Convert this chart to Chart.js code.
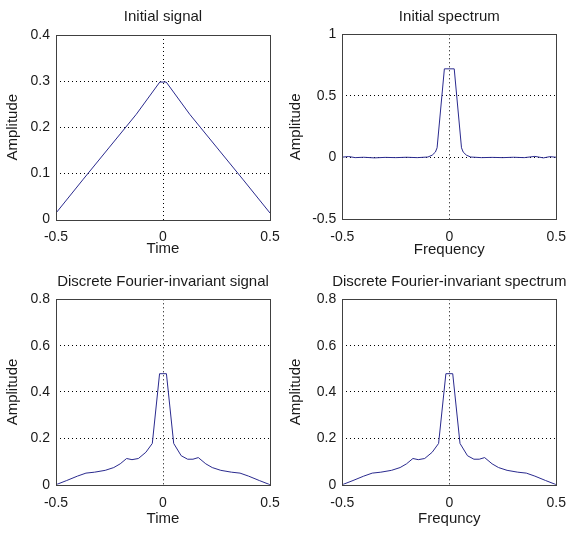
<!DOCTYPE html>
<html>
<head>
<meta charset="utf-8">
<script src="https://cdn.jsdelivr.net/npm/chart.js@4/dist/chart.umd.min.js"></script>
<style>
  html, body { margin: 0; padding: 0; background: #ffffff; }
  body { width: 567px; height: 533px; position: relative; overflow: hidden; }
  .panel { position: absolute; }
</style>
</head>
<body>
<div class="panel" style="left:0px;top:0px;width:283px;height:266px"><canvas id="c1" width="283" height="266"></canvas></div>
<div class="panel" style="left:283px;top:0px;width:284px;height:266px"><canvas id="c2" width="284" height="266"></canvas></div>
<div class="panel" style="left:0px;top:266px;width:283px;height:267px"><canvas id="c3" width="283" height="267"></canvas></div>
<div class="panel" style="left:283px;top:266px;width:284px;height:267px"><canvas id="c4" width="284" height="267"></canvas></div>
<script>
// ---- Data ----
const titles = ["Initial signal", "Initial spectrum", "Discrete Fourier-invariant signal", "Discrete Fourier-invariant spectrum"];
const xLabels = ["Time", "Frequency", "Time", "Frequncy"];
const yLabel = "Amplitude";

// Panel 1: initial signal (triangle)
const signalX = [-0.5, -0.375, -0.25, -0.125, -0.015, 0.015, 0.125, 0.25, 0.375, 0.5];
const signalY = [0.014, 0.086, 0.157, 0.228, 0.298, 0.298, 0.228, 0.157, 0.086, 0.014];

// Panel 2: initial spectrum
const spectrumX = [-0.5, -0.47, -0.44, -0.4, -0.35, -0.3, -0.25, -0.2, -0.15, -0.1, -0.08, -0.065, -0.057, -0.023,
                   0.023, 0.057, 0.065, 0.08, 0.1, 0.15, 0.2, 0.25, 0.3, 0.35, 0.4, 0.44, 0.47, 0.5];
const spectrumY = [0.004, 0.009, 0.0, 0.003, -0.002, 0.002, 0.0, 0.003, 0.0, 0.005, 0.02, 0.045, 0.08, 0.72,
                   0.72, 0.08, 0.045, 0.02, 0.005, 0.0, 0.002, 0.0, 0.003, 0.0, 0.01, -0.002, 0.008, 0.003];

// Panels 3 & 4: discrete Fourier-invariant signal / spectrum
const dfiX = [-0.5, -0.45, -0.4, -0.36, -0.32, -0.27, -0.23, -0.2, -0.17, -0.145, -0.115, -0.08, -0.05, -0.016,
              0.016, 0.05, 0.085, 0.115, 0.14, 0.165, 0.2, 0.23, 0.27, 0.32, 0.36, 0.4, 0.45, 0.5];
const dfiSignalY = [0.0, 0.018, 0.037, 0.05, 0.054, 0.062, 0.074, 0.09, 0.113, 0.108, 0.113, 0.14, 0.178, 0.479,
                    0.479, 0.178, 0.125, 0.11, 0.11, 0.117, 0.09, 0.074, 0.062, 0.054, 0.05, 0.037, 0.018, 0.0];
const dfiSpectrumY = [0.0, 0.018, 0.037, 0.05, 0.054, 0.062, 0.074, 0.09, 0.113, 0.108, 0.113, 0.14, 0.178, 0.479,
                      0.479, 0.178, 0.125, 0.11, 0.11, 0.117, 0.09, 0.074, 0.062, 0.054, 0.05, 0.037, 0.018, 0.0];

// Axis ranges / tick steps
const xRange = [-0.5, 0.5], xStep = 0.5;
const yRanges = [[0, 0.4], [-0.5, 1], [0, 0.8], [0, 0.8]];
const ySteps = [0.1, 0.5, 0.2, 0.2];

// ---- Styling ----
const FONT = "'Liberation Sans', Arial, sans-serif";
const TEXT = "#1a1a1a";
const LINE = "#2a2a8e";

// Box around the plot area + title centred over the plot area (MATLAB style)
const boxPlugin = {
  id: 'box',
  afterDatasetsDraw(chart, args, opts) {
    const a = chart.chartArea, ctx = chart.ctx;
    ctx.save();
    ctx.strokeStyle = '#404040';
    ctx.lineWidth = 1;
    ctx.setLineDash([]);
    const l = Math.round(a.left) + 0.5, t = Math.round(a.top) + 0.5;
    const r = Math.round(a.right) + 0.5, b = Math.round(a.bottom) + 0.5;
    ctx.strokeRect(l, t, r - l, b - t);
    ctx.fillStyle = TEXT;
    ctx.font = "normal 15px " + FONT;
    ctx.textAlign = 'center';
    ctx.textBaseline = 'middle';
    ctx.fillText(opts.text, (a.left + a.right) / 2, opts.y);
    ctx.restore();
  }
};

function fmt(v) { return String(Math.round(v * 100) / 100); }

function interiorGrid(min, max) {
  return (c) => {
    const v = c.tick ? c.tick.value : null;
    if (v === null || Math.abs(v - min) < 1e-9 || Math.abs(v - max) < 1e-9) return 'rgba(0,0,0,0)';
    return '#000000';
  };
}

// layout geometry per panel (chart-area placement inside each canvas)
const geo = [
  { yW: 56,   padR: 13,   padT: 35,   xH: 46.5, titleY: 16.5, tickGapX: 9,    xTitleBot: 8.5 },
  { yW: 59.3, padR: 10.7, padT: 34.3, xH: 46.7, titleY: 16.5, tickGapX: 9,    xTitleBot: 7.5 },
  { yW: 56,   padR: 13,   padT: 33.3, xH: 48.3, titleY: 15.5, tickGapX: 10.5, xTitleBot: 5.5 },
  { yW: 59.3, padR: 10.7, padT: 33.3, xH: 48.3, titleY: 15.5, tickGapX: 10.5, xTitleBot: 5.5 }
];

const seriesX = [signalX, spectrumX, dfiX, dfiX];
const seriesY = [signalY, spectrumY, dfiSignalY, dfiSpectrumY];

function makePanel(i) {
  const g = geo[i];
  const pts = seriesX[i].map((x, k) => ({ x: x, y: seriesY[i][k] }));
  const [ymin, ymax] = yRanges[i];
  new Chart(document.getElementById('c' + (i + 1)), {
    type: 'line',
    data: { datasets: [{ data: pts, borderColor: LINE, borderWidth: 1, pointRadius: 0, tension: 0, fill: false }] },
    options: {
      responsive: false,
      animation: false,
      devicePixelRatio: 1,
      layout: { padding: { left: 0, top: g.padT, right: g.padR, bottom: 0 } },
      plugins: {
        legend: { display: false },
        tooltip: { enabled: false },
        title: { display: false },
        box: { text: titles[i], y: g.titleY }
      },
      scales: {
        x: {
          type: 'linear', min: xRange[0], max: xRange[1],
          ticks: { stepSize: xStep, color: TEXT, padding: 0, maxRotation: 0, autoSkip: false,
                   font: { family: FONT, size: 14, lineHeight: 1.2 }, callback: fmt },
          grid: { color: interiorGrid(xRange[0], xRange[1]), lineWidth: 1,
                  drawTicks: true, tickLength: g.tickGapX, tickColor: 'rgba(0,0,0,0)' },
          border: { display: false, dash: [1, 3] },
          title: { display: true, text: xLabels[i], color: TEXT,
                   font: { family: FONT, size: 15, lineHeight: 1.2 }, padding: { top: 0, bottom: g.xTitleBot } },
          afterFit: (s) => { s.height = g.xH; }
        },
        y: {
          type: 'linear', min: ymin, max: ymax,
          ticks: { stepSize: ySteps[i], color: TEXT, padding: 6, autoSkip: false,
                   font: { family: FONT, size: 14, lineHeight: 1.2 }, callback: fmt },
          grid: { color: interiorGrid(ymin, ymax), lineWidth: 1, drawTicks: false },
          border: { display: false, dash: [1, 3] },
          title: { display: true, text: yLabel, color: TEXT,
                   font: { family: FONT, size: 15, lineHeight: 1.2 }, padding: { top: 4, bottom: 0 } },
          afterFit: (s) => { s.width = g.yW; }
        }
      }
    },
    plugins: [boxPlugin]
  });
}

for (let i = 0; i < 4; i++) makePanel(i);
</script>
</body>
</html>
